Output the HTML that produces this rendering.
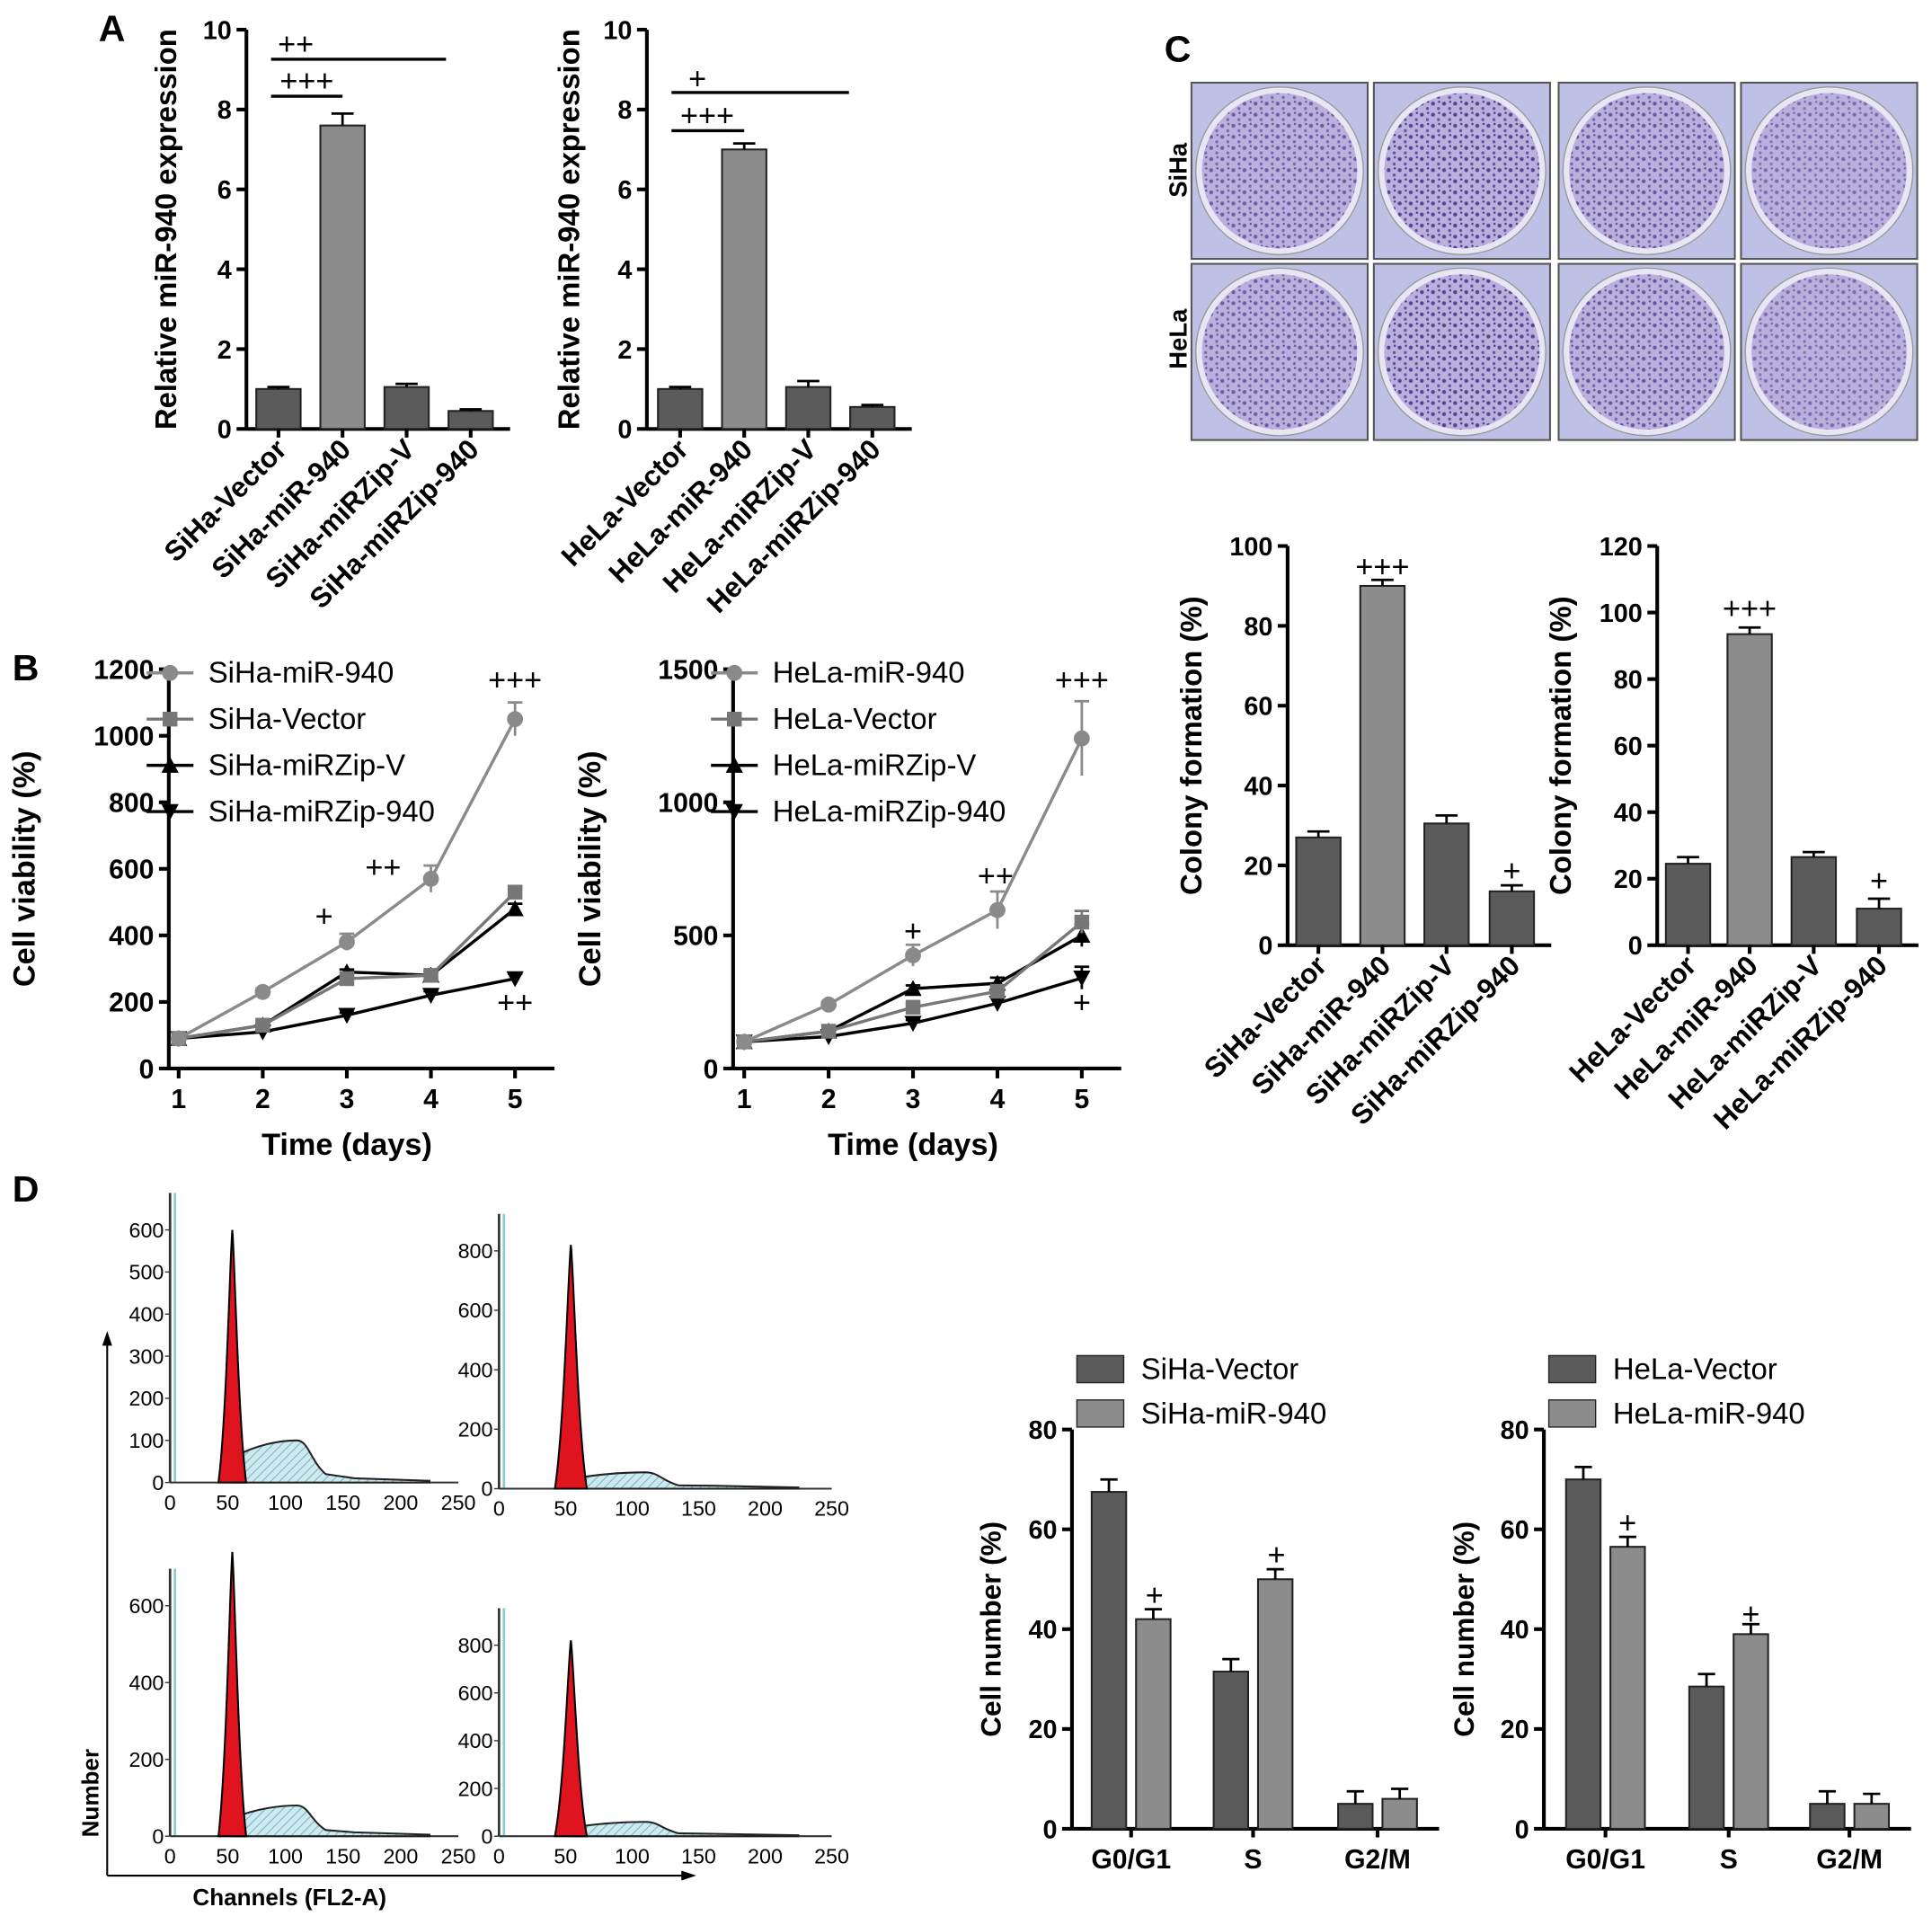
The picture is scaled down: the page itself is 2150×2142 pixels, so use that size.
<!DOCTYPE html>
<html><head><meta charset="utf-8"><style>
html,body{margin:0;padding:0;background:#fff}
svg{display:block;font-family:"Liberation Sans",Arial,sans-serif}
</style></head><body>
<svg id="fig" xmlns="http://www.w3.org/2000/svg" width="2150" height="2142" viewBox="0 0 1568 1562">
<defs>
<pattern id="hatch" width="5" height="5" patternUnits="userSpaceOnUse" patternTransform="rotate(45)"><rect width="5" height="5" fill="#cfe9ee"/><line x1="0" y1="0" x2="0" y2="5" stroke="#6fb8c8" stroke-width="1.5"/></pattern>
<pattern id="speck" width="9" height="9" patternUnits="userSpaceOnUse"><circle cx="2" cy="3" r="1.6" fill="#4a3590"/><circle cx="6.5" cy="7" r="1.2" fill="#5a44a0"/><circle cx="7" cy="1.5" r="0.9" fill="#3d2a80"/></pattern>
</defs>
</svg>
<script>
// ---- data ----
const aCatsSi=["SiHa-Vector","SiHa-miR-940","SiHa-miRZip-V","SiHa-miRZip-940"];
const aValsSi=[1,7.6,1.05,0.45];
const aErrSi=[0.05,0.3,0.08,0.04];
const aCatsHe=["HeLa-Vector","HeLa-miR-940","HeLa-miRZip-V","HeLa-miRZip-940"];
const aValsHe=[1,7.0,1.05,0.55];
const aErrHe=[0.05,0.15,0.15,0.05];
const aTicks=[0,2,4,6,8,10];
const days=[1,2,3,4,5];
const bSiNames=["SiHa-miR-940","SiHa-Vector","SiHa-miRZip-V","SiHa-miRZip-940"];
const bSiMir=[90,230,380,570,1050];
const bSiVec=[90,130,270,280,530];
const bSiZipV=[90,130,290,280,480];
const bSiZip=[90,110,160,220,270];
const bSiErr=[10,10,25,40,50];
const bHeNames=["HeLa-miR-940","HeLa-Vector","HeLa-miRZip-V","HeLa-miRZip-940"];
const bHeMir=[100,240,425,595,1240];
const bHeVec=[100,140,230,290,550];
const bHeZipV=[100,140,300,320,500];
const bHeZip=[100,120,170,245,340];
const bHeErr=[10,10,40,70,140];
const bSiTicks=[0,200,400,600,800,1000,1200];
const bHeTicks=[0,500,1000,1500];
const cValsSi=[27,90,30.5,13.5];
const cErrSi=[1.5,1.5,2,1.5];
const cValsHe=[24.5,93.5,26.5,11];
const cErrHe=[2,2,1.5,3];
const cSiTicks=[0,20,40,60,80,100];
const cHeTicks=[0,20,40,60,80,100,120];
const phases=["G0/G1","S","G2/M"];
const dSiVec=[67.5,31.5,5];
const dSiMir=[42,50,6];
const dHeVec=[70,28.5,5];
const dHeMir=[56.5,39,5];
const dTicks=[0,20,40,60,80];

const svg=document.getElementById('fig');
const NS="http://www.w3.org/2000/svg";
function mk(tag,at,parent){const e=document.createElementNS(NS,tag);for(const k in at)e.setAttribute(k,at[k]);(parent||svg).appendChild(e);return e;}
function txt(s,at,parent){const e=mk('text',at,parent);e.textContent=s;return e;}

[["A",80,33],["B",10,552],["C",945,50],["D",10,975]].forEach(l=>{
 const t=txt(l[0],{x:l[1],y:l[2],'font-size':30,'font-weight':'bold'});
 
 
});

function yAxis(x,y0,y1,ticks,max,fs,title,tx,tfs){
 const sc=v=>y0-(v/max)*(y0-y1);
 const ax=mk('line',{x1:x,y1:y0+1,x2:x,y2:sc(ticks[ticks.length-1]),stroke:'#000','stroke-width':3});
 
 
 ticks.forEach(t=>{
  mk('line',{x1:x-8,y1:sc(t),x2:x,y2:sc(t),stroke:'#000','stroke-width':3});
  const l=txt(t,{x:x-12,y:sc(t)+fs*0.36,'font-size':fs,'font-weight':'bold','text-anchor':'end'});
  
  
 });
 if(title){const yc=(y0+y1)/2;const tt=txt(title,{x:tx,y:yc,'font-size':tfs||fs+2,'font-weight':'bold','text-anchor':'middle',transform:`rotate(-90 ${tx} ${yc})`});
 
 }
 return sc;
}
function bar(cx,w,sc,v,err,fill,name){
 const r=mk('rect',{x:cx-w/2,y:sc(v),width:w,height:sc(0)-sc(v),fill:fill,stroke:'#222','stroke-width':1.5});
 
 
 mk('line',{x1:cx,y1:sc(v),x2:cx,y2:sc(v+err),stroke:'#000','stroke-width':2});
 mk('line',{x1:cx-w/4,y1:sc(v+err),x2:cx+w/4,y2:sc(v+err),stroke:'#000','stroke-width':2});
}
const barFills=['#5a5a5a','#8c8c8c','#5a5a5a','#5a5a5a'];
function catBars(axisX,y0,y1,ticks,max,title,tx,cats,vals,errs,centers,w){
 const sc=yAxis(axisX,y0,y1,ticks,max,21,title,tx,24);
 const xa=mk('line',{x1:axisX,y1:y0,x2:centers[centers.length-1]+w/2+14,y2:y0,stroke:'#000','stroke-width':3});
 
 
 vals.forEach((v,i)=>{
  bar(centers[i],w,sc,v,errs[i],barFills[i],'bar-'+cats[i].toLowerCase());
  mk('line',{x1:centers[i],y1:y0,x2:centers[i],y2:y0+7,stroke:'#000','stroke-width':3});
  const l=txt(cats[i],{x:centers[i]+8,y:y0+18,'font-size':23,'font-weight':'bold','text-anchor':'end',transform:`rotate(-45 ${centers[i]+8} ${y0+18})`});
  
  
 });
 return sc;
}
function sig(s,x,y,fs){const t=txt(s,{x:x,y:y,'font-size':fs||25,'text-anchor':'middle'});
 
 }
function hl(x1,x2,y){mk('line',{x1:x1,y1:y,x2:x2,y2:y,stroke:'#000','stroke-width':2.5});}

// ---- A ----
catBars(200,348,24,aTicks,10,"Relative miR-940 expression",143,aCatsSi,aValsSi,aErrSi,[226,278,330,382],36);
hl(220,362,48);sig("++",240,44);hl(220,278,78);sig("+++",249,74);
catBars(525,348,24,aTicks,10,"Relative miR-940 expression",470,aCatsHe,aValsHe,aErrHe,[552,604,656,708],36);
hl(545,689,75);sig("+",566,72);hl(545,604,106);sig("+++",574,102);

// ---- B ----
function marker(type,x,y,col,p){
 if(type==='c')return mk('circle',{cx:x,cy:y,r:6.5,fill:col},p);
 if(type==='s')return mk('rect',{x:x-6,y:y-6,width:12,height:12,fill:col},p);
 if(type==='t')return mk('path',{d:`M${x} ${y-7}L${x+7} ${y+6}L${x-7} ${y+6}Z`,fill:col},p);
 return mk('path',{d:`M${x} ${y+7}L${x+7} ${y-6}L${x-7} ${y-6}Z`,fill:col},p);
}
function linePanel(axisX,xs,max,ticks,series,names,errs,tx){
 const y0=867,y1=543;
 const sc=yAxis(axisX,y0,y1,ticks,max,22,"Cell viability (%)",tx,25);
 const xa=mk('line',{x1:axisX,y1:y0,x2:xs[4]+32,y2:y0,stroke:'#000','stroke-width':3});
 
 
 const xsc=d=>xs[0]+(d-1)*(xs[4]-xs[0])/4;
 days.forEach(d=>{mk('line',{x1:xsc(d),y1:y0,x2:xsc(d),y2:y0+8,stroke:'#000','stroke-width':3});
  const l=txt(d,{x:xsc(d),y:y0+32,'font-size':22,'font-weight':'bold','text-anchor':'middle'});
  
  });
 const xt=txt("Time (days)",{x:xsc(3),y:y0+70,'font-size':25,'font-weight':'bold','text-anchor':'middle'});
 
 
 const cols=['#8a8a8a','#777','#000','#000'],types=['c','s','t','v'];
 for(let s=3;s>=0;s--){
  const g=mk('g',{});
  
  
  const pts=series[s].map((v,i)=>xsc(days[i])+','+sc(v)).join(' ');
  mk('polyline',{points:pts,fill:'none',stroke:cols[s],'stroke-width':2.5},g);
  series[s].forEach((v,i)=>{
   const e=s===0?errs[i]:errs[i]*0.3;
   mk('line',{x1:xsc(days[i]),y1:sc(v-e),x2:xsc(days[i]),y2:sc(v+e),stroke:cols[s],'stroke-width':2},g);
   mk('line',{x1:xsc(days[i])-6,y1:sc(v+e),x2:xsc(days[i])+6,y2:sc(v+e),stroke:cols[s],'stroke-width':2},g);
   marker(types[s],xsc(days[i]),sc(v),cols[s],g);
  });
 }
 names.forEach((n,i)=>{
  const g=mk('g',{});
  
  
  const ly=546+i*37.5;
  mk('line',{x1:axisX-18,y1:ly,x2:axisX+20,y2:ly,stroke:cols[i],'stroke-width':2.5},g);
  marker(types[i],axisX+1,ly,cols[i],g);
  txt(n,{x:axisX+32,y:ly+8,'font-size':24},g);
 });
 return xsc;
}
linePanel(137,[145,213,282,350,418],1200,bSiTicks,[bSiMir,bSiVec,bSiZipV,bSiZip],bSiNames,bSiErr,28);
sig("+",263,752);sig("++",311,712);sig("+++",418,560);sig("++",418,822);
linePanel(595,[604,672,741,810,878],1500,bHeTicks,[bHeMir,bHeVec,bHeZipV,bHeZip],bHeNames,bHeErr,487);
sig("+",741,764);sig("++",808,719);sig("+++",878,560);sig("+",878,822);

// ---- C plates ----
const plateX=[967,1115,1265,1413],plateY=[67,214];
const dens=[0.55,0.85,0.6,0.35];
plateY.forEach((py)=>plateX.forEach((px,ci)=>{
 const g=mk('g',{});
 
 
 mk('rect',{x:px,y:py,width:143,height:143,fill:'#bfc0e6',stroke:'#555','stroke-width':1.5},g);
 mk('circle',{cx:px+71.5,cy:py+71.5,r:68,fill:'#e8e6f4',stroke:'#999','stroke-width':1},g);
 mk('circle',{cx:px+71.5,cy:py+71.5,r:63,fill:'#b9b0dc'},g);
 mk('circle',{cx:px+71.5,cy:py+71.5,r:63,fill:'url(#speck)','fill-opacity':0.3+dens[ci]*0.7},g);
}));
[["SiHa",138],["HeLa",275]].forEach(l=>{const t=txt(l[0],{x:963,y:l[1],'font-size':20,'font-weight':'bold','text-anchor':'middle',transform:`rotate(-90 963 ${l[1]})`});
 
 });

catBars(1045,767,443,cSiTicks,100,"Colony formation (%)",975,aCatsSi,cValsSi,cErrSi,[1070,1122,1174,1227],36);
sig("+++",1122,468);sig("+",1227,715);
catBars(1345,767,443,cHeTicks,120,"Colony formation (%)",1275,aCatsHe,cValsHe,cErrHe,[1370,1420,1472,1525],36);
sig("+++",1420,502);sig("+",1525,723);

// ---- D histograms ----
const histPeak=[600,820,740,820];
const histS=[100,55,80,60];
const histMax=[600,800,600,800];
const hp=[{x:138,y0:1203,ytop:998,xr:372},{x:405,y0:1208,ytop:1015,xr:675},{x:138,y0:1490,ytop:1303,xr:372},{x:405,y0:1490,ytop:1335,xr:675}];
const hTicks=[[0,100,200,300,400,500,600],[0,200,400,600,800],[0,200,400,600],[0,200,400,600,800]];
hp.forEach((p,i)=>{
 const g=mk('g',{});
 
 
 const sy=v=>p.y0-v/histMax[i]*(p.y0-p.ytop);
 const sx=c=>p.x+c/250*(p.xr-p.x);
 mk('line',{x1:p.x,y1:p.y0,x2:p.x,y2:p.ytop-30,stroke:'#333','stroke-width':2},g);
 mk('line',{x1:p.x+4,y1:p.y0,x2:p.x+4,y2:p.ytop-30,stroke:'#8cc','stroke-width':2},g);
 mk('line',{x1:p.x,y1:p.y0,x2:p.xr,y2:p.y0,stroke:'#333','stroke-width':1.5},g);
 hTicks[i].forEach(t=>{mk('line',{x1:p.x-4,y1:sy(t),x2:p.x,y2:sy(t),stroke:'#333'},g);
  txt(t,{x:p.x-5,y:sy(t)+6,'font-size':17,'text-anchor':'end'},g);});
 [0,50,100,150,200,250].forEach(c=>txt(c,{x:sx(c),y:p.y0+22,'font-size':17,'text-anchor':'middle'},g));
 const s=histS[i],pk=histPeak[i];
 mk('path',{d:`M${sx(55)} ${sy(s*0.6)} C${sx(75)} ${sy(s*0.9)},${sx(95)} ${sy(s)},${sx(110)} ${sy(s)} C${sx(120)} ${sy(s)},${sx(122)} ${sy(s*0.5)},${sx(135)} ${sy(s*0.2)} L${sx(160)} ${sy(10)} L${sx(225)} ${sy(4)} L${sx(225)} ${p.y0} L${sx(55)} ${p.y0}Z`,fill:'url(#hatch)',stroke:'#222','stroke-width':1.5},g);
 mk('path',{d:`M${sx(42)} ${p.y0} C${sx(49)} ${sy(pk*0.25)},${sx(52)} ${sy(pk*0.9)},${sx(54)} ${sy(pk)} C${sx(56)} ${sy(pk*0.9)},${sx(59)} ${sy(pk*0.25)},${sx(66)} ${p.y0} Z`,fill:'#e0141e',stroke:'#000','stroke-width':1.5},g);
});
mk('line',{x1:87,y1:1522,x2:87,y2:1090,stroke:'#000','stroke-width':1.5});
mk('path',{d:'M83 1092L87 1080L91 1092Z'});
mk('line',{x1:87,y1:1522,x2:555,y2:1522,stroke:'#000','stroke-width':1.5});
mk('path',{d:'M553 1518L565 1522L553 1526Z'});
const nl=txt("Number",{x:80,y:1455,'font-size':19,'font-weight':'bold','text-anchor':'middle',transform:'rotate(-90 80 1455)'});


const cl=txt("Channels (FL2-A)",{x:235,y:1546,'font-size':19,'font-weight':'bold','text-anchor':'middle'});



// ---- D bar charts ----
function phaseChart(axisX,centers,vec,mir,names,tx){
 const y0=1484,y1=1160;
 const sc=yAxis(axisX,y0,y1,dTicks,80,21,"Cell number (%)",tx,23);
 const xa=mk('line',{x1:axisX,y1:y0,x2:centers[2]+50,y2:y0,stroke:'#000','stroke-width':3});
 
 
 phases.forEach((ph,i)=>{
  bar(centers[i]-18,28,sc,vec[i],2.5,'#5a5a5a','bar-vector-'+ph.toLowerCase());
  bar(centers[i]+18,28,sc,mir[i],2,'#8c8c8c','bar-mir940-'+ph.toLowerCase());
  mk('line',{x1:centers[i],y1:y0,x2:centers[i],y2:y0+7,stroke:'#000','stroke-width':3});
  const l=txt(ph,{x:centers[i],y:y0+32,'font-size':22,'font-weight':'bold','text-anchor':'middle'});
  
  
 });
 [['#5a5a5a',1111],['#8c8c8c',1147]].forEach((c,i)=>{
  const g=mk('g',{});
  
  
  mk('rect',{x:axisX+4,y:c[1]-11,width:38,height:22,fill:c[0],stroke:'#222'},g);
  txt(names[i],{x:axisX+56,y:c[1]+8,'font-size':24},g);
 });
 return sc;
}
phaseChart(870,[918,1017,1118],dSiVec,dSiMir,["SiHa-Vector","SiHa-miR-940"],812);
sig("+",937,1303);sig("+",1036,1270);
phaseChart(1253,[1303,1403,1501],dHeVec,dHeMir,["HeLa-Vector","HeLa-miR-940"],1196);
sig("+",1321,1244);sig("+",1421,1318);
</script>
</body></html>
